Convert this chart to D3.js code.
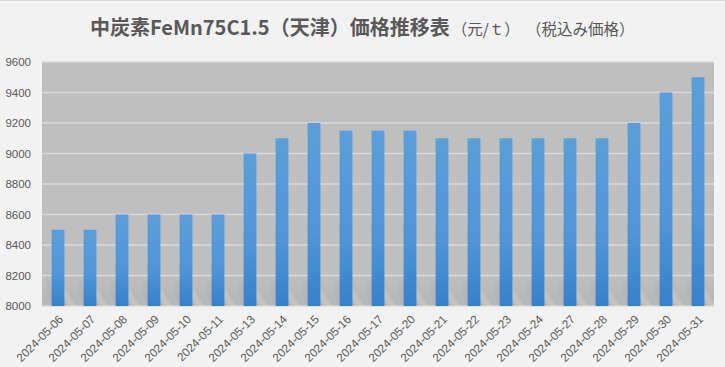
<!DOCTYPE html>
<html><head><meta charset="utf-8">
<script src="https://cdn.jsdelivr.net/npm/d3@7"></script>
<style>
html,body{margin:0;padding:0;background:#f2f2f2;}
svg{display:block;}
</style></head>
<body>
<svg id="c" width="725" height="367"></svg>
<script>
const categories = ["2024-05-06","2024-05-07","2024-05-08","2024-05-09","2024-05-10","2024-05-11","2024-05-13","2024-05-14","2024-05-15","2024-05-16","2024-05-17","2024-05-20","2024-05-21","2024-05-22","2024-05-23","2024-05-24","2024-05-27","2024-05-28","2024-05-29","2024-05-30","2024-05-31"];
const prices = [8500,8500,8600,8600,8600,8600,9000,9100,9200,9150,9150,9150,9100,9100,9100,9100,9100,9100,9200,9400,9500];
const yTicks = [8000,8200,8400,8600,8800,9000,9200,9400,9600];
const titleMain = "中炭素FeMn75C1.5（天津）価格推移表";
const titleUnit = "（元/ｔ）";
const titleTax = "（税込み価格）";

const svg = d3.select("#c");
const W = 725, H = 367;
const m = {l:42, r:11, t:62, b:61};
const pw = W - m.l - m.r, ph = H - m.t - m.b;

svg.append("rect").attr("width",W).attr("height",H).attr("fill","#f2f2f2");
svg.append("rect").attr("width",W).attr("height",1).attr("fill","#d9d9d9");

const defs = svg.append("defs");
const bg = defs.append("linearGradient").attr("id","bar").attr("x1",0).attr("y1",0).attr("x2",0).attr("y2",1);
bg.append("stop").attr("offset","0%").attr("stop-color","#5c9edb");
bg.append("stop").attr("offset","60%").attr("stop-color","#4f95d8");
bg.append("stop").attr("offset","100%").attr("stop-color","#3382cc");

// reflection streak pattern
const RH = 34;
const pat = defs.append("pattern").attr("id","streak").attr("patternUnits","userSpaceOnUse")
  .attr("width",32).attr("height",RH).attr("x",m.l+4).attr("y",H-m.b-RH);
const sg = defs.append("linearGradient").attr("id","sg").attr("x1",0).attr("y1",1).attr("x2",1).attr("y2",0.3);
sg.append("stop").attr("offset","0%").attr("stop-color","#b8b8b8");
sg.append("stop").attr("offset","40%").attr("stop-color","#acacac");
sg.append("stop").attr("offset","55%").attr("stop-color","#c9c9c9");
sg.append("stop").attr("offset","68%").attr("stop-color","#b4b4b4");
sg.append("stop").attr("offset","100%").attr("stop-color","#bdbdbd");
pat.append("rect").attr("width",32).attr("height",RH).attr("fill","url(#sg)");
const fade = defs.append("linearGradient").attr("id","fade").attr("x1",0).attr("y1",0).attr("x2",0).attr("y2",1);
fade.append("stop").attr("offset","0%").attr("stop-color","#fff").attr("stop-opacity",0);
fade.append("stop").attr("offset","60%").attr("stop-color","#fff").attr("stop-opacity",0.8);
fade.append("stop").attr("offset","100%").attr("stop-color","#fff").attr("stop-opacity",1);
const mask = defs.append("mask").attr("id","fm");
mask.append("rect").attr("x",m.l).attr("y",H-m.b-RH).attr("width",pw).attr("height",RH).attr("fill","url(#fade)");

const x = d3.scaleBand().domain(categories).range([m.l, m.l+pw]).paddingInner(0.6).paddingOuter(0.3);
const y = d3.scaleLinear().domain([8000,9600]).range([m.t+ph, m.t]);

svg.append("rect").attr("x",m.l).attr("y",m.t).attr("width",pw).attr("height",ph).attr("fill","#bfbfbf");
svg.append("rect").attr("x",m.l).attr("y",H-m.b-RH).attr("width",pw).attr("height",RH)
  .attr("fill","url(#streak)").attr("mask","url(#fm)").attr("opacity",0.85);

// gridlines
svg.append("g").selectAll("line").data(yTicks).join("line")
  .attr("x1",m.l).attr("x2",m.l+pw).attr("y1",d=>y(d)).attr("y2",d=>y(d))
  .attr("stroke","#d9d9d9").attr("stroke-width",d=>d===8000?1.5:1.3);

// bars
svg.append("g").selectAll("rect").data(prices).join("rect")
  .attr("x",(d,i)=>x(categories[i])).attr("width",x.bandwidth())
  .attr("y",d=>y(d)).attr("height",d=>y(8000)-y(d)).attr("fill","url(#bar)");

// y axis
const ya = d3.axisLeft(y).tickValues(yTicks).tickSize(0).tickPadding(11).tickFormat(d3.format("d"));
const yg = svg.append("g").attr("transform",`translate(${m.l},0)`).call(ya);
yg.select(".domain").remove();
yg.selectAll("text").attr("fill","#595959").style("font-family","'Liberation Sans', Arial, sans-serif").style("font-size","11.5px");

// x axis
const xa = d3.axisBottom(x).tickSize(0).tickPadding(0);
const xg = svg.append("g").attr("transform",`translate(0,${m.t+ph})`).call(xa);
xg.select(".domain").remove();
xg.selectAll("text").attr("fill","#595959").style("font-family","'Liberation Sans', Arial, sans-serif").style("font-size","11.8px")
  .attr("text-anchor","end").attr("dy",0).attr("y",0)
  .attr("transform","translate(6,14) rotate(-45)");

// title
const t = svg.append("text").attr("x",90).attr("y",35).attr("fill","#595959")
  .style("font-family","'Noto Sans CJK JP', sans-serif").style("font-weight","bold");
t.append("tspan").text(titleMain).style("font-size","20px");
t.append("tspan").text(titleUnit).attr("dx",2).style("font-size","15.5px").style("font-weight","normal");
t.append("tspan").text(titleTax).attr("dx",14).style("font-size","15.5px").style("font-weight","normal");
</script>
</body></html>
